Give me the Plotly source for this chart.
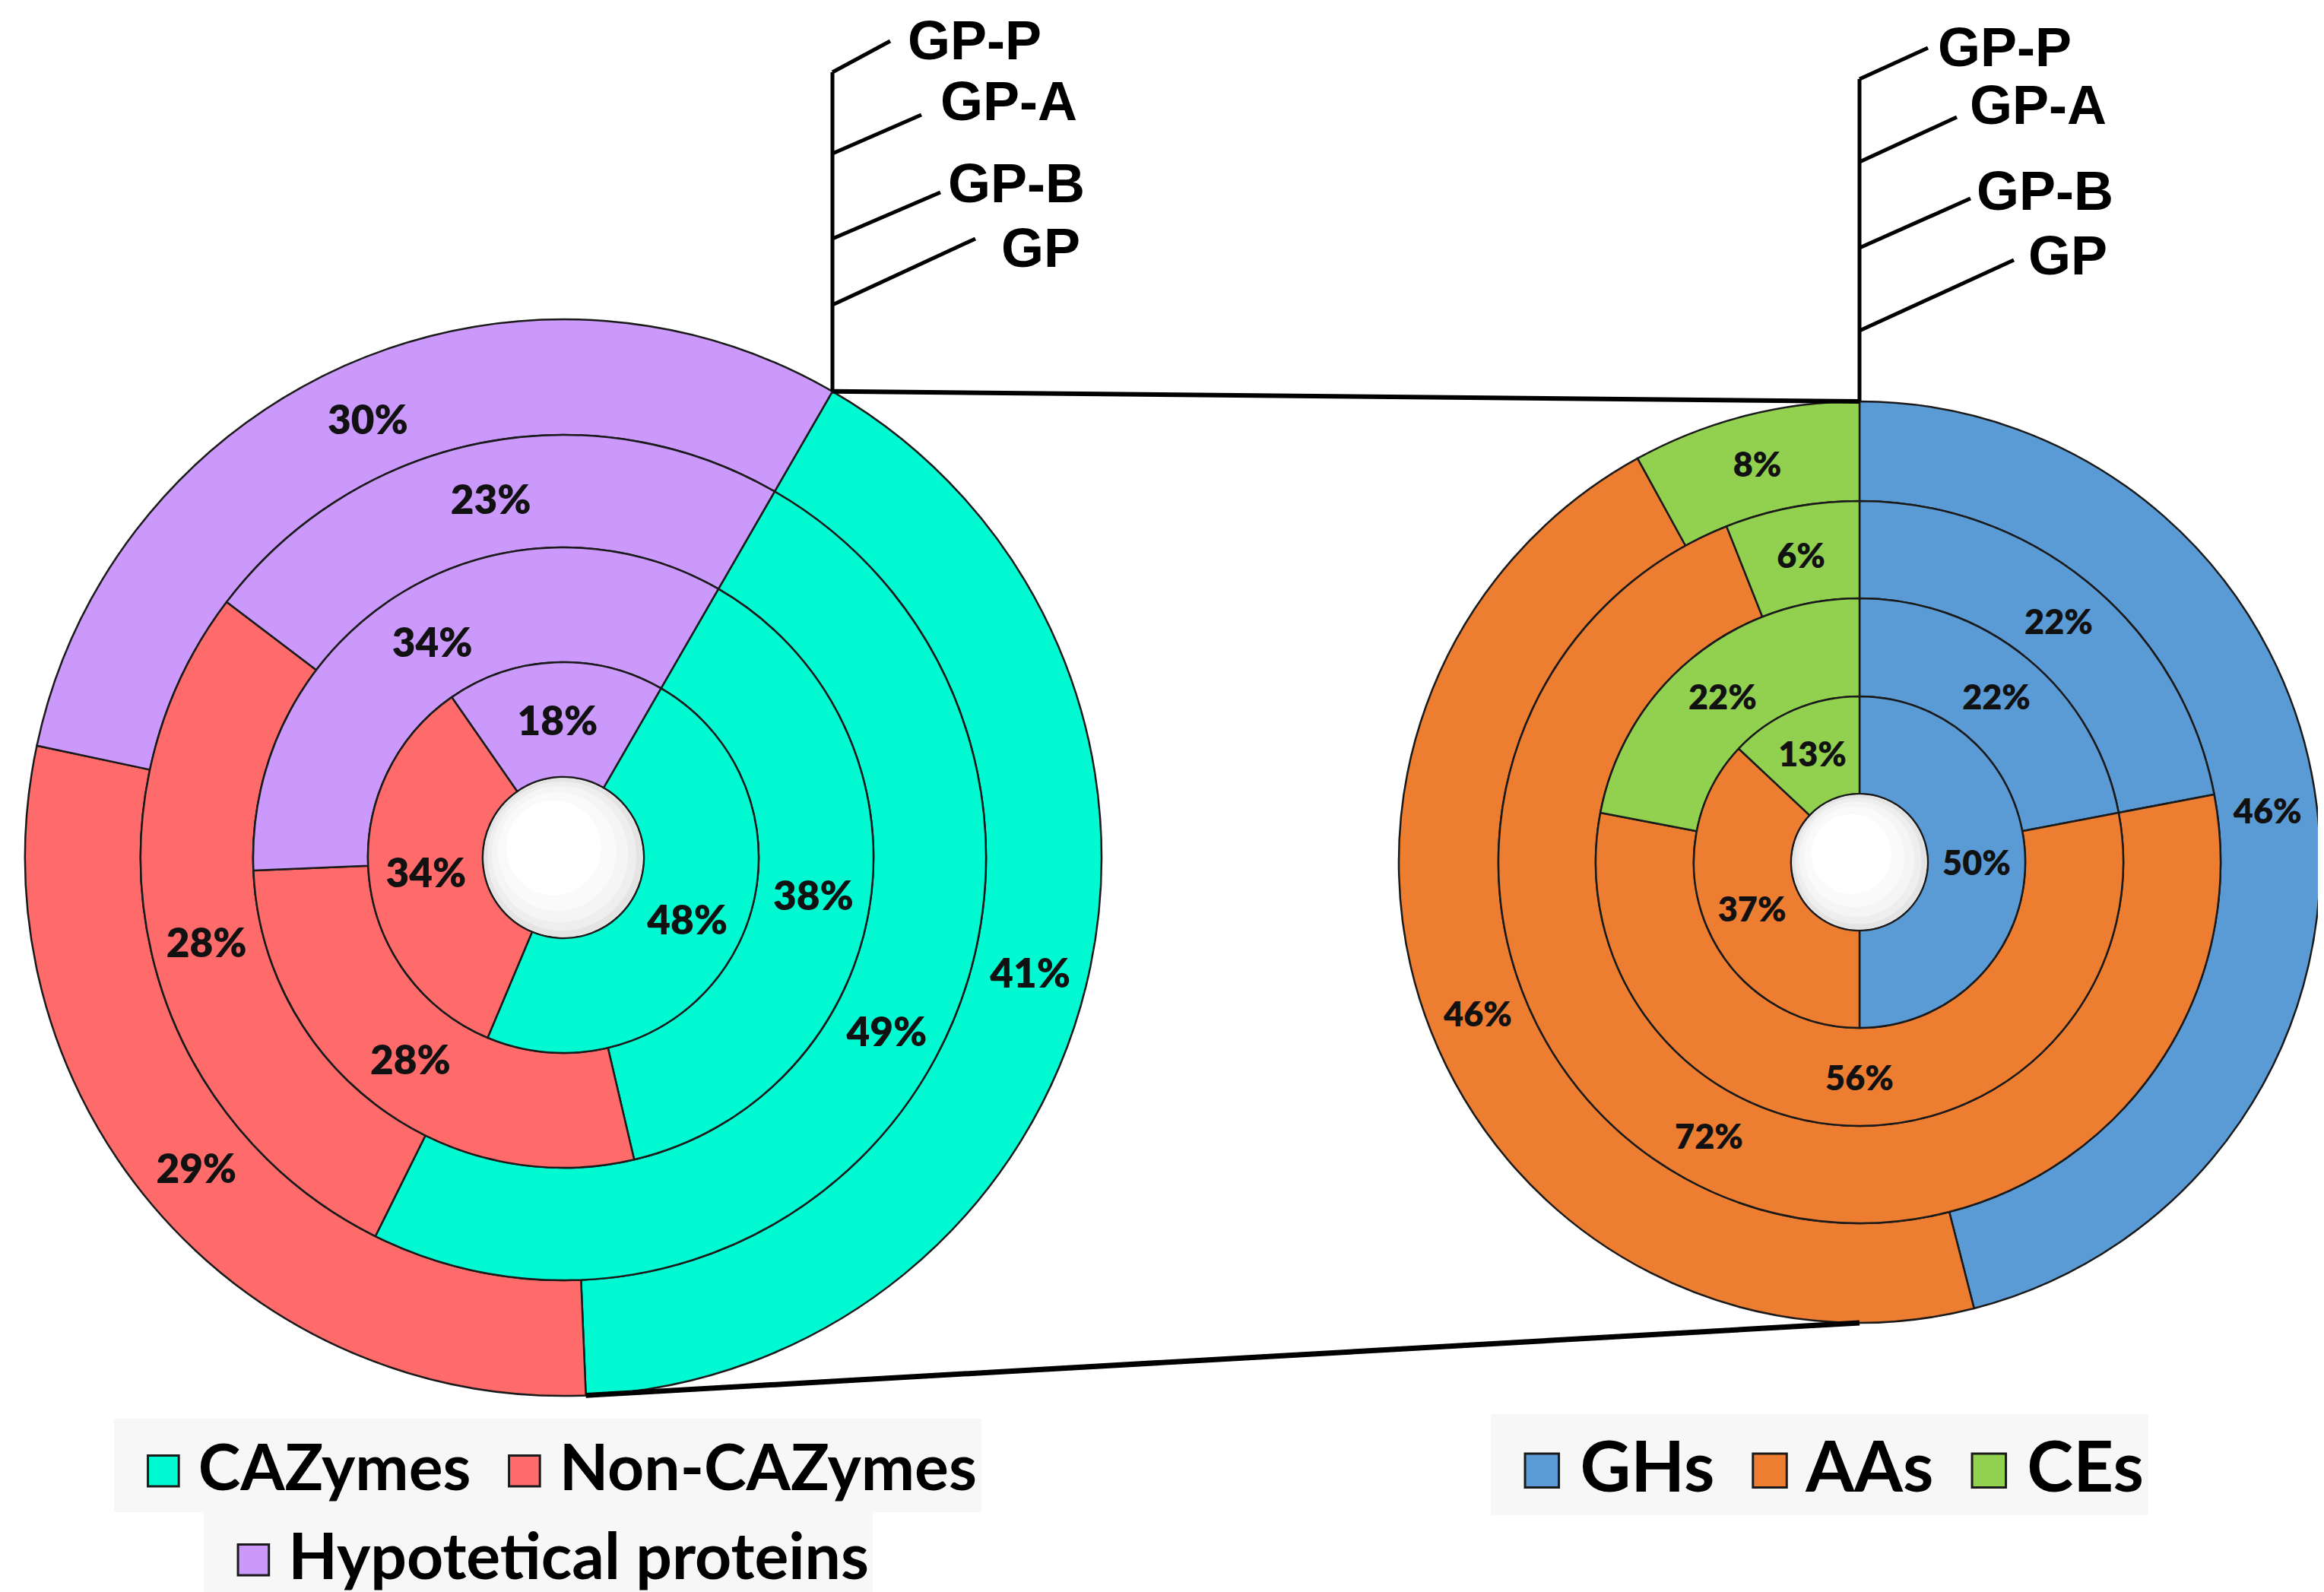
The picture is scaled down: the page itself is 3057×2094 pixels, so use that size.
import math
import plotly.graph_objects as go

W, H = 3057, 2094

# ---------------- data ----------------
RING_NAMES = ["GP", "GP-B", "GP-A", "GP-P"]          # inner -> outer

LEFT_LABELS = ["CAZymes", "Non-CAZymes", "Hypotetical proteins"]
LEFT_COLORS = ["#02FAD2", "#FF6B6B", "#CB99FB"]
LEFT_GP = [48, 34, 18]
LEFT_GP_B = [38, 28, 34]
LEFT_GP_A = [49, 28, 23]
LEFT_GP_P = [41, 29, 30]
LEFT_RINGS = [LEFT_GP, LEFT_GP_B, LEFT_GP_A, LEFT_GP_P]

RIGHT_LABELS = ["GHs", "AAs", "CEs"]
RIGHT_COLORS = ["#5B9BD5", "#ED7D31", "#92D050"]
RIGHT_GP = [50, 37, 13]
RIGHT_GP_B = [22, 56, 22]
RIGHT_GP_A = [22, 72, 6]
RIGHT_GP_P = [46, 46, 8]
RIGHT_RINGS = [RIGHT_GP, RIGHT_GP_B, RIGHT_GP_A, RIGHT_GP_P]

# ---------------- geometry (pixels) ----------------
L_CX, L_CY = 733, 1120
L_RADII = [106, 257, 408, 556, 708]
L_ROT = 30
R_CX, R_CY = 2438, 1126
R_RADII = [90, 218, 347, 475, 606]
R_ROT = 0

SHADE_COLORS = ["#e4e4e4", "#eeeeee", "#f5f5f5", "#fafafa", "#ffffff"]
SHADE_FRACS = [1.0, 0.94, 0.86, 0.75, 0.6]

LINE_COL = "#1a1a1a"


def px_x(x):
    return x / W


def px_y(y):
    return 1 - y / H


def dom(cx, cy, r):
    return dict(x=[(cx - r) / W, (cx + r) / W], y=[1 - (cy + r) / H, 1 - (cy - r) / H])


fig = go.Figure()


def add_chart(cx, cy, radii, rot, rings, labels, colors, fsize):
    # outer ring first
    for k in reversed(range(len(rings))):
        r_in, r_out = radii[k], radii[k + 1]
        fig.add_trace(go.Pie(
            values=rings[k], labels=labels, name=RING_NAMES[k],
            marker=dict(colors=colors, line=dict(color=LINE_COL, width=2.5)),
            hole=r_in / r_out, domain=dom(cx, cy, r_out),
            sort=False, direction="clockwise", rotation=rot,
            texttemplate="%{value}%", textposition="inside",
            insidetextorientation="horizontal",
            textfont=dict(family="Lato", size=fsize, color="#111111", weight=800),
            showlegend=False, hoverinfo="skip"))
    # shaded white sphere in the centre
    for col, f in zip(SHADE_COLORS, SHADE_FRACS):
        r = radii[0] * f - 1.5
        off = (1 - f) * radii[0] * 0.3
        fig.add_trace(go.Pie(
            values=[1], labels=["centre"], marker=dict(colors=[col], line=dict(width=0)),
            domain=dom(cx - off, cy - off, r), sort=False, textinfo="none",
            showlegend=False, hoverinfo="skip"))


add_chart(L_CX, L_CY, L_RADII, L_ROT, LEFT_RINGS, LEFT_LABELS, LEFT_COLORS, 53)
add_chart(R_CX, R_CY, R_RADII, R_ROT, RIGHT_RINGS, RIGHT_LABELS, RIGHT_COLORS, 45)


# legend entries: coloured outlined square glyph + label
def legend_name(lab, col):
    return (f'<span style="color:{col};stroke:{LINE_COL};stroke-width:3px">■</span> {lab}')


for i, (lab, col) in enumerate(zip(LEFT_LABELS, LEFT_COLORS)):
    fig.add_trace(go.Scatter(
        x=[None], y=[None], mode="markers", name=legend_name(lab, col),
        legend="legend" if i < 2 else "legend3",
        marker=dict(size=1, color="rgba(0,0,0,0)", line=dict(width=0))))
for lab, col in zip(RIGHT_LABELS, RIGHT_COLORS):
    fig.add_trace(go.Scatter(
        x=[None], y=[None], mode="markers", name=legend_name(lab, col), legend="legend2",
        marker=dict(size=1, color="rgba(0,0,0,0)", line=dict(width=0))))

# ---------------- connector lines ----------------
shapes = []


def seg(x0, y0, x1, y1, w):
    shapes.append(dict(type="line", xref="paper", yref="paper",
                       x0=px_x(x0), y0=px_y(y0), x1=px_x(x1), y1=px_y(y1),
                       line=dict(color="black", width=w)))


R_out_L = L_RADII[-1]
a0 = math.radians(L_ROT)
a1 = math.radians(L_ROT + 360 * LEFT_GP_P[0] / 100)
ltx, lty = L_CX + R_out_L * math.sin(a0), L_CY - R_out_L * math.cos(a0)
lbx, lby = L_CX + R_out_L * math.sin(a1), L_CY - R_out_L * math.cos(a1)
R_out_R = R_RADII[-1]
rtx, rty = R_CX, R_CY - R_out_R
rbx, rby = R_CX, R_CY + R_out_R

seg(ltx, lty, rtx, rty, 6)
seg(lbx, lby, rbx, rby, 7)

# ring-name brackets
TOP_NAMES = list(reversed(RING_NAMES))   # GP-P, GP-A, GP-B, GP
L_STEM_TOP = 87
L_LEAD_START = [87, 194, 306, 393]
L_LEAD_END = [(1163, 46), (1204, 143), (1229, 245), (1275, 306)]
L_TEXT = [(1184, 45), (1227, 125), (1237, 233), (1307, 318)]
R_STEM_TOP = 96
R_LEAD_START = [96, 205, 318, 427]
R_LEAD_END = [(2528, 55), (2566, 146), (2584, 253), (2641, 334)]
R_TEXT = [(2539, 54), (2581, 130), (2590, 243), (2658, 328)]

seg(ltx, lty, ltx, L_STEM_TOP, 5)
seg(rtx, rty, rtx, R_STEM_TOP, 5)

annotations = []
NAME_FONT = dict(family="Liberation Sans", size=72, color="black", weight="bold")
for nm, ys, (ex, ey), (tx, ty) in zip(TOP_NAMES, L_LEAD_START, L_LEAD_END, L_TEXT):
    seg(ltx, ys, ex, ey, 5)
    annotations.append(dict(text=nm, x=px_x(tx), y=px_y(ty), xref="paper", yref="paper",
                            xanchor="left", yanchor="middle", showarrow=False, font=NAME_FONT))
for nm, ys, (ex, ey), (tx, ty) in zip(TOP_NAMES, R_LEAD_START, R_LEAD_END, R_TEXT):
    seg(rtx, ys, ex, ey, 5)
    annotations.append(dict(text=nm, x=px_x(tx), y=px_y(ty), xref="paper", yref="paper",
                            xanchor="left", yanchor="middle", showarrow=False, font=NAME_FONT))

leg_common = dict(orientation="h", xanchor="center", yanchor="top", bgcolor="#f7f7f7",
                  borderwidth=0, itemclick=False, itemdoubleclick=False, itemwidth=30)

fig.update_layout(
    width=W, height=H,
    margin=dict(l=0, r=0, t=0, b=0, autoexpand=False),
    paper_bgcolor="white", plot_bgcolor="white",
    template="none",
    font=dict(family="Lato", color="black"),
    xaxis=dict(visible=False), yaxis=dict(visible=False),
    shapes=shapes, annotations=annotations,
    legend=dict(x=px_x(712), y=px_y(1858),
                font=dict(family="Lato", size=84, color="black", weight="bold"), **leg_common),
    legend3=dict(x=px_x(700), y=px_y(1975),
                 font=dict(family="Lato", size=84, color="black", weight="bold"), **leg_common),
    legend2=dict(x=px_x(2385), y=px_y(1852),
                 font=dict(family="Lato", size=92, color="black", weight="bold"), **leg_common),
)

fig.write_html("out.html")
